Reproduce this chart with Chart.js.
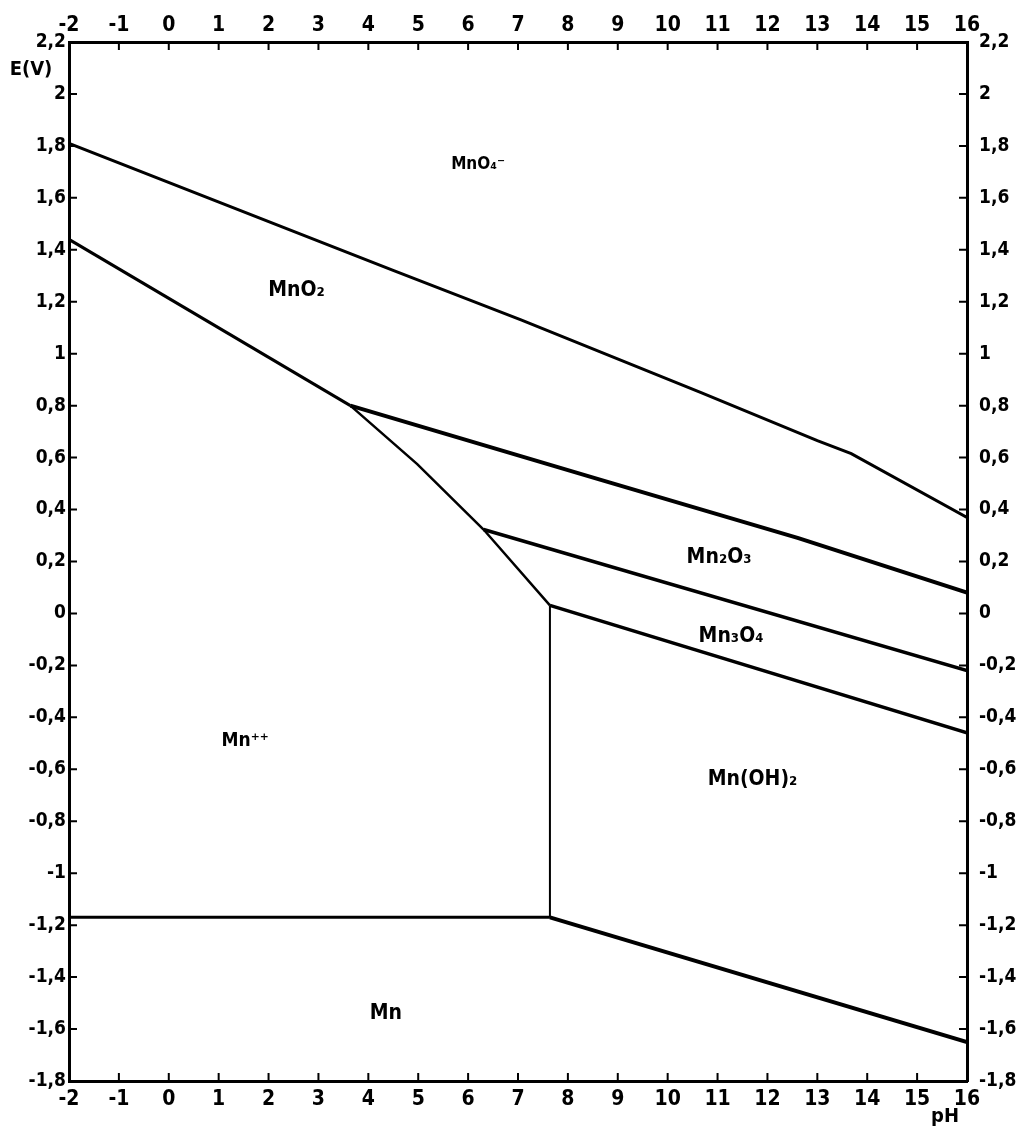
<!DOCTYPE html>
<html lang="en">
<head>
  <meta charset="UTF-8" />
  <title>Mn potential - pH diagram</title>
  <style>
    body { margin: 0; background: #fff; }
    #wrap { width: 1029px; height: 1132px; }
  </style>
</head>
<body>
  <div id="wrap"><canvas id="chart" width="1029" height="1132"></canvas></div>

  <script src="https://cdn.jsdelivr.net/npm/chart.js"></script>
  <script>
    // boundary lines, pH against E (V)
    const mno4Ph = [-2, 4.51, 7.06, 10.67, 13.0, 13.68, 16];
    const mno4E = [1.81, 1.32, 1.13, 0.85, 0.665, 0.615, 0.37];
    const mno2MnPh = [-2, 3.64];
    const mno2MnE = [1.44, 0.80];
    const mn2o3MnPh = [3.64, 4.98, 6.31, 7.64];
    const mn2o3MnE = [0.80, 0.575, 0.323, 0.031];
    const mno2Mn2o3Ph = [3.64, 8.66, 12.62, 16];
    const mno2Mn2o3E = [0.80, 0.514, 0.29, 0.08];
    const mn2o3Mn3o4Ph = [6.31, 16];
    const mn2o3Mn3o4E = [0.323, -0.22];
    const mn3o4OhPh = [7.64, 16];
    const mn3o4OhE = [0.031, -0.46];
    const ohVertPh = [7.64, 7.64];
    const ohVertE = [0.031, -1.17];
    const mnMnPh = [-2, 7.64];
    const mnMnE = [-1.17, -1.17];
    const mnOhMnPh = [7.64, 16];
    const mnOhMnE = [-1.17, -1.65];

    // region names
    const regionNames = ['MnO\u2084\u207B', 'MnO\u2082', 'Mn\u2082O\u2083', 'Mn\u2083O\u2084', 'Mn\u207A\u207A', 'Mn(OH)\u2082', 'Mn'];
    const regionPh = [6.2, 2.56, 11.03, 11.27, 1.53, 11.7, 4.35];
    const regionE = [1.73, 1.245, 0.217, -0.09, -0.49, -0.64, -1.54];
    const regionSize = [17, 21, 21, 21, 19, 21, 21];

    const FONT = "'DejaVu Sans Condensed', 'DejaVu Sans', sans-serif";

    function toPoints(xs, ys) {
      return xs.map((x, i) => ({ x: x, y: ys[i] }));
    }

    function line(xs, ys, width) {
      return {
        data: toPoints(xs, ys),
        showLine: true,
        borderColor: '#000',
        borderWidth: width,
        pointRadius: 0,
        fill: false,
        tension: 0,
      };
    }

    function fmtE(v) {
      const r = Math.round(v * 10) / 10;
      const s = Number.isInteger(r) ? String(r) : r.toFixed(1);
      return s.replace('.', ',');
    }

    // small ticks pointing into the plot on all four sides
    const inwardTicks = {
      id: 'inwardTicks',
      afterDatasetsDraw(chart) {
        const { ctx, chartArea: a, scales } = chart;
        const len = 8;
        ctx.save();
        ctx.strokeStyle = '#000';
        ctx.lineWidth = 2;
        ctx.beginPath();
        scales.x.ticks.forEach((t) => {
          const px = scales.x.getPixelForValue(t.value);
          ctx.moveTo(px, a.bottom); ctx.lineTo(px, a.bottom - len);
          ctx.moveTo(px, a.top); ctx.lineTo(px, a.top + len);
        });
        scales.y.ticks.forEach((t) => {
          const py = scales.y.getPixelForValue(t.value);
          ctx.moveTo(a.left, py); ctx.lineTo(a.left + len, py);
          ctx.moveTo(a.right, py); ctx.lineTo(a.right - len, py);
        });
        ctx.stroke();
        ctx.restore();
      },
    };

    const regionLabels = {
      id: 'regionLabels',
      afterDraw(chart) {
        const { ctx, chartArea: a, scales } = chart;
        ctx.save();
        ctx.fillStyle = '#000';
        ctx.textAlign = 'center';
        ctx.textBaseline = 'middle';
        regionNames.forEach((name, i) => {
          ctx.font = `bold ${regionSize[i]}px ${FONT}`;
          ctx.fillText(name, scales.x.getPixelForValue(regionPh[i]), scales.y.getPixelForValue(regionE[i]));
        });
        ctx.font = `bold 20px ${FONT}`;
        ctx.fillText('E(V)', a.left - 38, a.top + 28);
        ctx.fillText('pH', a.right - 22, a.bottom + 36);
        ctx.restore();
      },
    };

    const tickFontX = { family: FONT, size: 21, weight: 'bold' };
    const tickFontY = { family: FONT, size: 19, weight: 'bold' };

    function xScale(position, pad, h) {
      return {
        type: 'linear',
        position: position,
        min: -2,
        max: 16,
        ticks: { stepSize: 1, color: '#000', font: tickFontX, padding: pad, maxRotation: 0, autoSkip: false },
        grid: { display: false, drawTicks: false },
        border: { color: '#000', width: 3 },
        afterFit: (s) => { s.height = h; },
      };
    }

    function yScale(position, pad, w) {
      return {
        type: 'linear',
        position: position,
        min: -1.8,
        max: 2.2,
        ticks: { stepSize: 0.2, color: '#000', font: tickFontY, padding: pad, autoSkip: false, callback: (v) => fmtE(v) },
        grid: { display: false, drawTicks: false },
        border: { color: '#000', width: 3 },
        afterFit: (s) => { s.width = w; },
      };
    }

    new Chart(document.getElementById('chart'), {
      type: 'scatter',
      data: {
        datasets: [
          line(mno4Ph, mno4E, 3),
          line(mno2MnPh, mno2MnE, 3),
          line(mn2o3MnPh, mn2o3MnE, 2.5),
          line(mno2Mn2o3Ph, mno2Mn2o3E, 4),
          line(mn2o3Mn3o4Ph, mn2o3Mn3o4E, 3.5),
          line(mn3o4OhPh, mn3o4OhE, 3.5),
          line(ohVertPh, ohVertE, 2),
          line(mnMnPh, mnMnE, 3),
          line(mnOhMnPh, mnOhMnE, 4),
        ],
      },
      options: {
        responsive: false,
        animation: false,
        layout: { padding: 0 },
        plugins: {
          legend: { display: false },
          tooltip: { enabled: false },
        },
        scales: {
          x: xScale('bottom', 6, 51),
          x2: xScale('top', 4, 42),
          y: yScale('left', 3, 69),
          y2: yScale('right', 12, 62),
        },
      },
      plugins: [inwardTicks, regionLabels],
    });
  </script>
</body>
</html>
